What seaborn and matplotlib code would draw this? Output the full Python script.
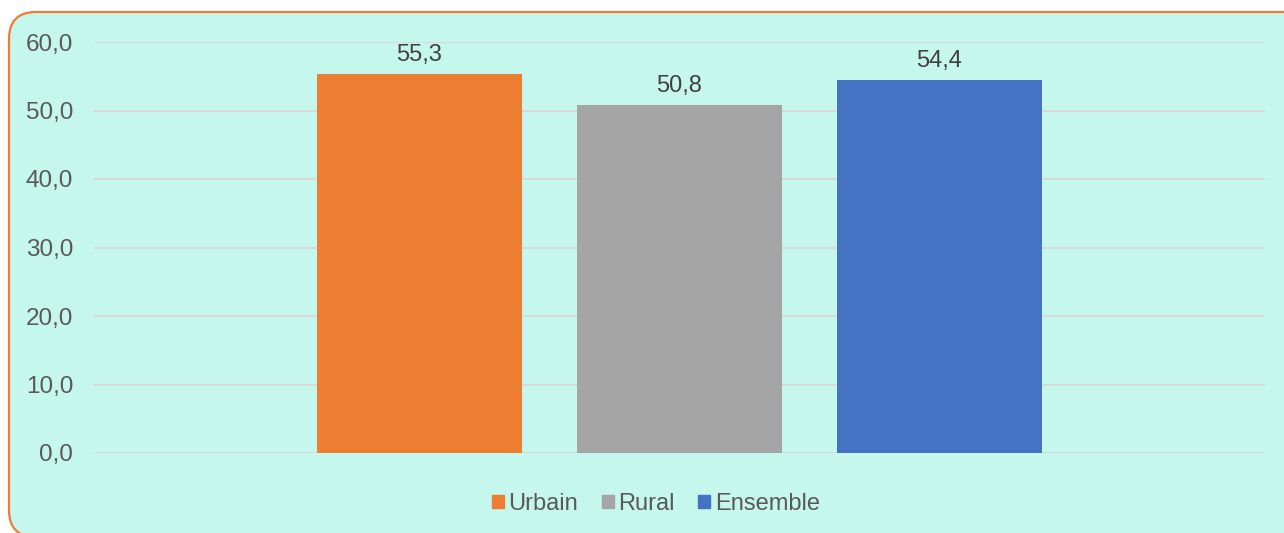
import pandas as pd
import matplotlib.pyplot as plt
import seaborn as sns
from matplotlib.patches import FancyBboxPatch
from matplotlib.ticker import FixedLocator, FuncFormatter

series = ['Urbain', 'Rural', 'Ensemble']
values = [55.3, 50.8, 54.4]
colors = ['#ED7D31', '#A5A5A5', '#4472C4']
yticks = [0, 10, 20, 30, 40, 50, 60]

df = pd.DataFrame({'cat': [''] * 3, 'serie': series, 'val': values})

sns.set_style('white')
plt.rcParams['font.family'] = ['Liberation Sans', 'DejaVu Sans']

fig = plt.figure(figsize=(12.84, 5.33), dpi=100)
fig.patch.set_facecolor('white')

# rounded frame, cut at the right and bottom edges
frame = FancyBboxPatch((9 / 1284, -4 / 533), 1.05, 1 - 8 / 533,
                       boxstyle='round,pad=0,rounding_size=0.021',
                       transform=fig.transFigure, facecolor='#C5F7EC',
                       edgecolor='#ED7D31', linewidth=1.6,
                       mutation_aspect=1284 / 533, zorder=-5)
fig.patches.append(frame)

ax = fig.add_axes([94 / 1284, 1 - 453 / 533, (1265 - 94) / 1284, (453 - 42) / 533])
ax.set_facecolor('none')

sns.barplot(data=df, x='cat', y='val', hue='serie', hue_order=series,
            palette=colors, width=0.666, gap=0.212, saturation=1,
            linewidth=0, ax=ax, legend=False)

ax.set_xlim(-0.5, 0.5)
ax.set_ylim(0, 60)
ax.yaxis.set_major_locator(FixedLocator(yticks))
ax.yaxis.set_major_formatter(FuncFormatter(lambda v, p: f'{v:.1f}'.replace('.', ',')))
ax.grid(axis='y', color='#D9D9D9', linewidth=1.4)
ax.set_axisbelow(True)
for s in ax.spines.values():
    s.set_visible(False)
ax.tick_params(axis='y', length=0, pad=15, labelsize=17.5, labelcolor='#595959')
ax.set_xticks([])
ax.set_xlabel('')
ax.set_ylabel('')

for c in ax.containers:
    ax.bar_label(c, labels=[f'{v:.1f}'.replace('.', ',') for v in c.datavalues],
                 padding=6, fontsize=17, color='#404040')

handles = [plt.Rectangle((0, 0), 1, 1, color=c) for c in colors]
fig.legend(handles, series, loc='center', bbox_to_anchor=(656 / 1284, 1 - 504 / 533),
           ncol=3, frameon=False, fontsize=17, labelcolor='#595959',
           handlelength=0.5, handleheight=0.5, handletextpad=0.2, columnspacing=1.0)

fig.savefig('out.png', dpi=100)
